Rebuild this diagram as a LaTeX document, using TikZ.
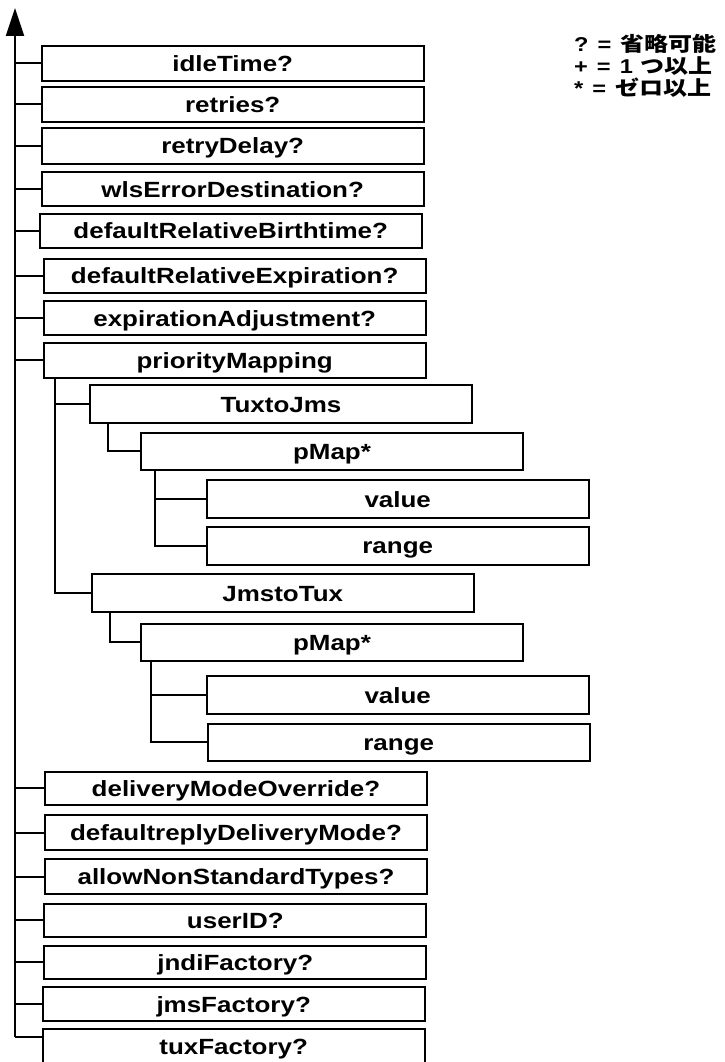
\documentclass[tikz,border=0pt]{standalone}
\usepackage{fontspec}
\setmainfont{Liberation Sans}[FakeStretch=1.18]
\newfontfamily\cjk{Noto Sans CJK JP}[FakeStretch=1.2]
\usetikzlibrary{arrows.meta, calc}

\begin{document}
\begin{tikzpicture}[x=1pt, y=-1pt,
  entry/.style={rectangle, draw, line width=2pt, anchor=north west, minimum width=382pt, inner sep=0pt, text height=16pt, text depth=0pt, font=\fontsize{22}{24}\selectfont\bfseries},
  link/.style={line width=2pt},
  trunk/.style={-{Triangle[length=28pt, width=18pt]}, line width=2pt}
]
\useasboundingbox (0,0) rectangle (724,1062);
\node[entry, minimum height=35pt] (idle) at (40.7,45) {idleTime?};
\node[entry, minimum height=35pt] (retries) at (40.7,86) {retries?};
\node[entry, minimum height=35.5pt] (delay) at (40.7,127) {retryDelay?};
\node[entry, minimum height=34pt] (errdest) at (40.7,171) {wlsErrorDestination?};
\node[entry, minimum height=34.5pt] (birth) at (38.7,212.7) {defaultRelativeBirthtime?};
\node[entry, minimum height=34.5pt] (expir) at (42.7,257.7) {defaultRelativeExpiration?};
\node[entry, minimum height=34pt] (adjust) at (42.7,300) {expirationAdjustment?};
\node[entry, minimum height=35pt] (prio) at (42.7,341.7) {priorityMapping};
\node[entry, minimum height=38pt] (tux2jms) at (89,384) {TuxtoJms};
\node[entry, minimum height=37pt] (pmapA) at (140,431.7) {pMap*};
\node[entry, minimum height=38pt] (valueA) at (205.7,479) {value};
\node[entry, minimum height=38pt] (rangeA) at (205.7,525.7) {range};
\node[entry, minimum height=37.5pt] (jms2tux) at (90.7,573.3) {JmstoTux};
\node[entry, minimum height=37pt] (pmapB) at (140,622.7) {pMap*};
\node[entry, minimum height=38pt] (valueB) at (205.7,675) {value};
\node[entry, minimum height=37pt] (rangeB) at (206.7,722.7) {range};
\node[entry, minimum height=33.5pt] (override) at (44,770.7) {deliveryModeOverride?};
\node[entry, minimum height=34.5pt] (replymode) at (44,814.3) {defaultreplyDeliveryMode?};
\node[entry, minimum height=35pt] (nonstd) at (44,858.3) {allowNonStandardTypes?};
\node[entry, minimum height=33pt] (userid) at (43.3,902.7) {userID?};
\node[entry, minimum height=32.5pt] (jndi) at (43.3,945) {jndiFactory?};
\node[entry, minimum height=34pt] (jmsfac) at (41.7,986) {jmsFactory?};
\node[entry, minimum height=35pt] (tuxfac) at (41.7,1028.3) {tuxFactory?};
% trunk
\coordinate (tip) at (15,8);
\coordinate (foot) at (15,1036.7);
\draw[trunk] (foot) -- (tip);
\foreach \n in {idle,retries,delay,errdest,birth,expir,adjust,prio,override,replymode,nonstd,userid,jndi,jmsfac}
  \draw[link] (tip |- \n.west) -- (\n.west);
\draw[link] (foot) -- (foot -| tuxfac.west);
% priorityMapping
\draw[link] ([xshift=12.3pt]prio.south west) |- (tux2jms.west);
\draw[link] ([xshift=12.3pt]prio.south west) |- (jms2tux.west);
\draw[link] ([xshift=18.7pt]tux2jms.south west) |- (pmapA.west);
\draw[link] ([xshift=15pt]pmapA.south west) |- (valueA.west);
\draw[link] ([xshift=15pt]pmapA.south west) |- (rangeA.west);
\draw[link] ([xshift=19.3pt]jms2tux.south west) |- (pmapB.west);
\draw[link] ([xshift=11pt]pmapB.south west) |- (valueB.west);
\draw[link] ([xshift=11pt]pmapB.south west) |- (rangeB.west);
% legend
\node[anchor=north west, align=left, inner sep=0pt, font=\fontsize{20}{22}\selectfont\bfseries] (legend) at (574,34)
  {?\hspace{9pt}=\hspace{9pt}{\cjk 省略可能}\\
   +\hspace{9pt}=\hspace{9pt}1\hspace{8pt}{\cjk つ以上}\\
   *\hspace{9pt}=\hspace{9pt}{\cjk ゼロ以上}};
\end{tikzpicture}
\end{document}
